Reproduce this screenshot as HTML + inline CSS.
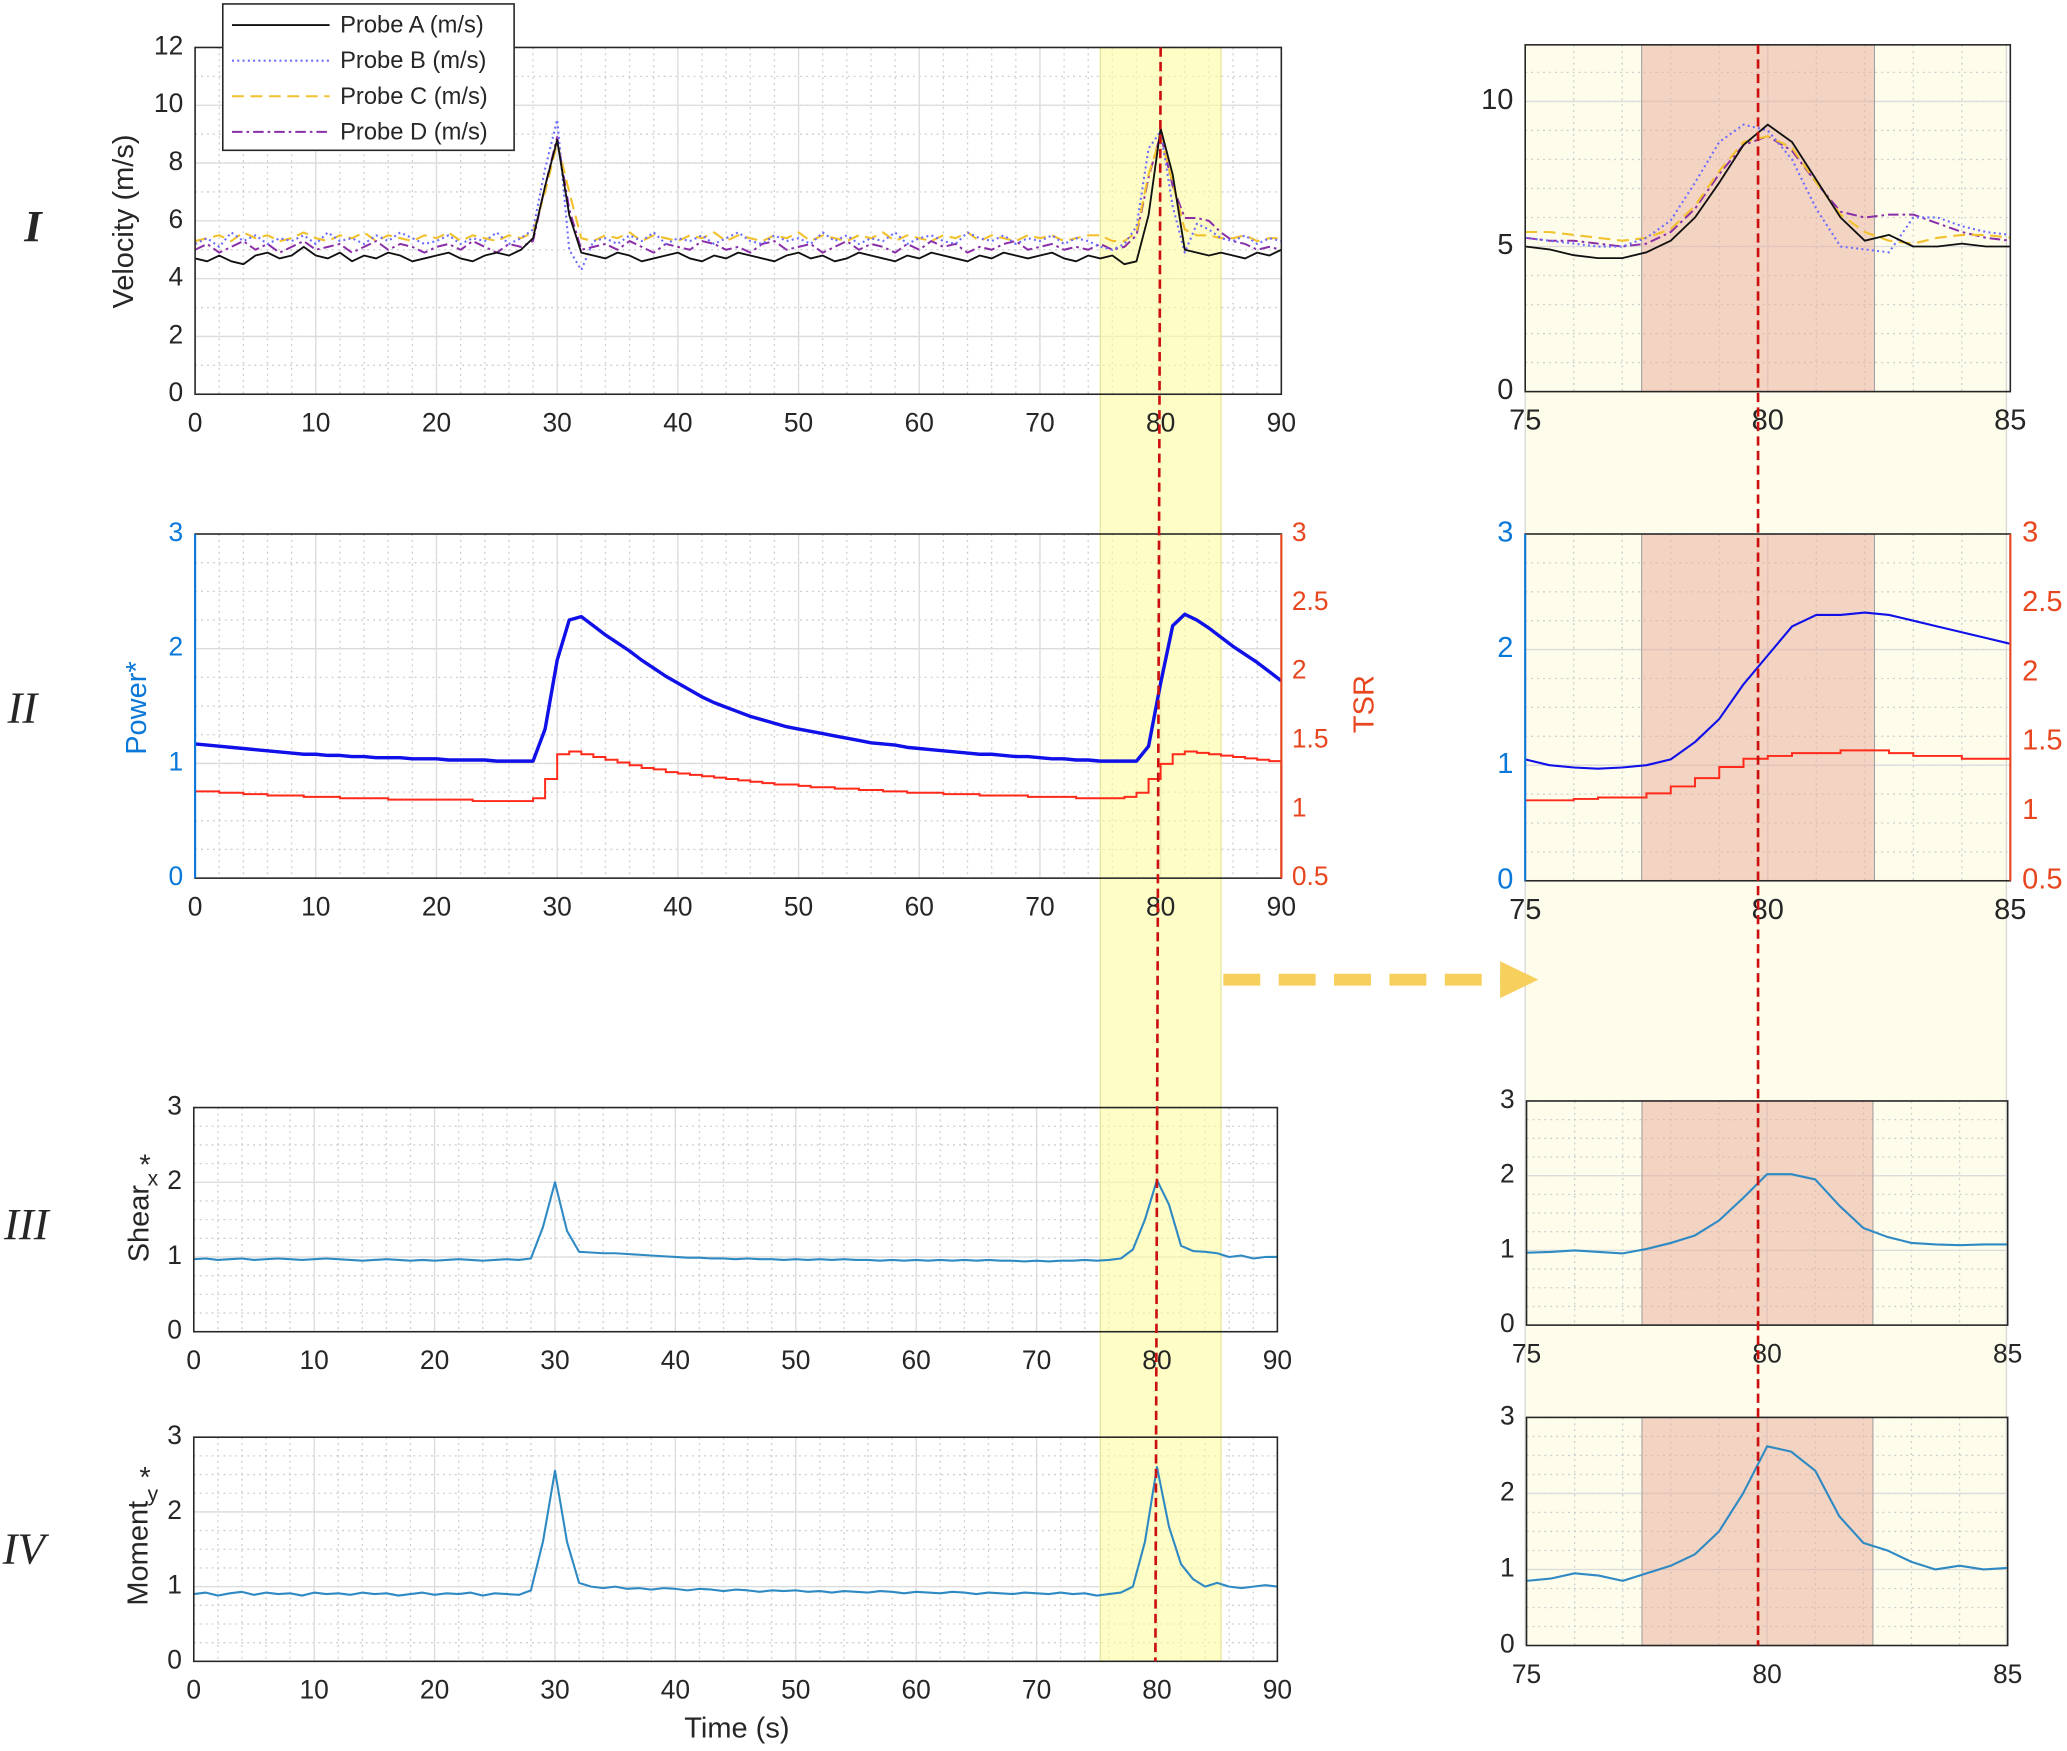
<!DOCTYPE html>
<html><head><meta charset="utf-8"><style>
html,body{margin:0;padding:0;background:#fff}
svg{display:block}
text{font-family:"Liberation Sans",sans-serif}
</style></head><body>
<svg id="chart" xmlns="http://www.w3.org/2000/svg" width="2067" height="1751" viewBox="0 0 1568 1328" preserveAspectRatio="none">
<g id="gBg"></g><g id="gGrid"></g><g id="gBand"></g><g id="gData"></g><g id="gAxes"></g><g id="gTop"></g>
</svg>
<script>
// ---------- data (t = 0..90 s, 1 s step) ----------
const probeA=[4.7,4.6,4.8,4.6,4.5,4.8,4.9,4.7,4.8,5.1,
4.8,4.7,4.9,4.6,4.8,4.7,4.9,4.8,4.6,4.7,
4.8,4.9,4.7,4.6,4.8,4.9,4.8,5.0,5.4,7.2,
8.8,6.2,4.9,4.8,4.7,4.9,4.8,4.6,4.7,4.8,
4.9,4.7,4.6,4.8,4.7,4.9,4.8,4.7,4.6,4.8,
4.9,4.7,4.8,4.6,4.7,4.9,4.8,4.7,4.6,4.8,
4.7,4.9,4.8,4.7,4.6,4.8,4.7,4.9,4.8,4.7,
4.8,4.9,4.7,4.6,4.8,4.7,4.8,4.5,4.6,6.2,
9.2,7.6,5.0,4.9,4.8,4.9,4.8,4.7,4.9,4.8,5.0];
const probeB=[5.2,5.4,5.1,5.6,5.3,5.5,5.2,5.4,5.3,5.5,
5.2,5.6,5.3,5.4,5.2,5.5,5.3,5.6,5.4,5.2,
5.3,5.5,5.2,5.4,5.3,5.6,5.2,5.4,5.7,7.8,
9.5,5.0,4.3,5.3,5.4,5.2,5.5,5.3,5.6,5.2,
5.4,5.3,5.5,5.2,5.4,5.6,5.3,5.2,5.5,5.3,
5.4,5.2,5.6,5.3,5.5,5.2,5.4,5.3,5.6,5.2,
5.4,5.5,5.3,5.2,5.6,5.4,5.3,5.5,5.2,5.4,
5.3,5.5,5.2,5.4,5.3,5.1,5.0,5.2,5.8,8.5,
9.1,6.5,4.9,5.9,5.7,5.4,5.3,5.5,5.2,5.4,5.3];
const probeC=[5.3,5.4,5.5,5.3,5.6,5.4,5.5,5.3,5.4,5.6,
5.4,5.3,5.5,5.4,5.6,5.3,5.5,5.4,5.3,5.5,
5.4,5.6,5.3,5.5,5.4,5.3,5.5,5.4,5.6,7.0,
8.7,7.0,5.4,5.3,5.5,5.4,5.6,5.3,5.5,5.4,
5.3,5.5,5.4,5.6,5.3,5.5,5.4,5.3,5.5,5.4,
5.6,5.3,5.5,5.4,5.3,5.5,5.4,5.6,5.3,5.5,
5.4,5.3,5.5,5.4,5.6,5.3,5.5,5.4,5.3,5.5,
5.4,5.5,5.3,5.4,5.5,5.5,5.3,5.3,5.6,7.6,
8.9,7.3,5.7,5.5,5.5,5.4,5.4,5.5,5.3,5.4,5.4];
const probeD=[5.0,5.2,4.9,5.1,5.3,5.0,5.2,4.9,5.1,5.3,
5.0,5.1,5.2,4.9,5.1,5.3,5.0,5.2,5.1,4.9,
5.1,5.2,5.0,5.3,5.1,4.9,5.2,5.1,5.3,7.2,
8.9,6.4,5.0,5.1,5.2,5.0,5.3,5.1,4.9,5.2,
5.1,5.0,5.3,5.2,5.0,5.1,4.9,5.2,5.3,5.0,
5.1,5.2,4.9,5.1,5.3,5.0,5.2,5.1,4.9,5.2,
5.0,5.3,5.1,5.2,4.9,5.1,5.0,5.2,5.3,5.0,
5.1,5.2,5.0,5.1,5.0,5.2,5.0,5.1,5.5,7.5,
9.0,7.2,6.1,6.1,6.0,5.6,5.3,5.2,5.0,5.1,5.0];
const power=[1.17,1.16,1.15,1.14,1.13,1.12,1.11,1.10,1.09,1.08,
1.08,1.07,1.07,1.06,1.06,1.05,1.05,1.05,1.04,1.04,
1.04,1.03,1.03,1.03,1.03,1.02,1.02,1.02,1.02,1.30,
1.90,2.25,2.28,2.20,2.12,2.05,1.98,1.90,1.83,1.76,
1.70,1.64,1.58,1.53,1.49,1.45,1.41,1.38,1.35,1.32,
1.30,1.28,1.26,1.24,1.22,1.20,1.18,1.17,1.16,1.14,
1.13,1.12,1.11,1.10,1.09,1.08,1.08,1.07,1.06,1.06,
1.05,1.04,1.04,1.03,1.03,1.02,1.02,1.02,1.02,1.15,
1.70,2.20,2.30,2.25,2.18,2.10,2.02,1.95,1.88,1.80,1.72];
const tsr=[1.13,1.13,1.12,1.12,1.11,1.11,1.10,1.10,1.10,1.09,
1.09,1.09,1.08,1.08,1.08,1.08,1.07,1.07,1.07,1.07,
1.07,1.07,1.07,1.06,1.06,1.06,1.06,1.06,1.08,1.22,
1.40,1.42,1.40,1.38,1.36,1.34,1.32,1.30,1.29,1.27,
1.26,1.25,1.24,1.23,1.22,1.21,1.20,1.19,1.18,1.18,
1.17,1.16,1.16,1.15,1.15,1.14,1.14,1.13,1.13,1.12,
1.12,1.12,1.11,1.11,1.11,1.10,1.10,1.10,1.10,1.09,
1.09,1.09,1.09,1.08,1.08,1.08,1.08,1.09,1.12,1.22,
1.33,1.40,1.42,1.41,1.40,1.39,1.38,1.37,1.36,1.35,1.33];
const tsrEnd=0.5;
const shear=[0.97,0.98,0.96,0.97,0.98,0.96,0.97,0.98,0.97,0.96,
0.97,0.98,0.97,0.96,0.95,0.96,0.97,0.96,0.95,0.96,
0.95,0.96,0.97,0.96,0.95,0.96,0.97,0.96,0.98,1.40,
2.00,1.35,1.07,1.06,1.05,1.05,1.04,1.03,1.02,1.01,
1.00,0.99,0.99,0.98,0.98,0.97,0.98,0.97,0.97,0.96,
0.97,0.96,0.97,0.96,0.97,0.96,0.96,0.95,0.96,0.95,
0.96,0.95,0.96,0.95,0.96,0.95,0.96,0.95,0.95,0.94,
0.95,0.94,0.95,0.95,0.96,0.95,0.96,0.98,1.10,1.50,
2.03,1.70,1.15,1.08,1.07,1.05,1.00,1.02,0.98,1.00,1.00];
const moment=[0.90,0.92,0.88,0.91,0.93,0.89,0.92,0.90,0.91,0.88,
0.92,0.90,0.91,0.89,0.92,0.90,0.91,0.88,0.90,0.92,
0.89,0.91,0.90,0.92,0.88,0.91,0.90,0.89,0.95,1.60,
2.55,1.60,1.05,1.00,0.98,1.00,0.97,0.98,0.96,0.98,
0.97,0.95,0.97,0.96,0.94,0.96,0.95,0.93,0.95,0.94,
0.95,0.93,0.94,0.92,0.94,0.93,0.92,0.94,0.93,0.91,
0.93,0.92,0.91,0.93,0.92,0.90,0.92,0.91,0.90,0.92,
0.91,0.90,0.92,0.90,0.91,0.88,0.90,0.92,1.00,1.60,
2.60,1.80,1.30,1.10,1.00,1.05,1.00,0.98,1.00,1.02,1.00];
// zoom window (t = 75..85 s, 0.5 s step)
const zA=[5.0,4.9,4.7,4.6,4.6,4.8,5.2,6.0,7.2,8.5,9.2,8.6,7.3,6.0,5.2,5.4,5.0,5.0,5.1,5.0,5.0];
const zB=[5.3,5.2,5.1,5.0,5.0,5.3,5.9,7.2,8.6,9.2,9.0,8.0,6.3,5.0,4.9,4.8,6.0,6.0,5.7,5.5,5.4];
const zC=[5.5,5.5,5.4,5.3,5.2,5.3,5.6,6.4,7.6,8.6,8.8,8.4,7.2,6.1,5.5,5.2,5.1,5.3,5.4,5.4,5.3];
const zD=[5.3,5.2,5.2,5.1,5.0,5.1,5.5,6.3,7.5,8.5,8.8,8.3,7.2,6.2,6.0,6.1,6.1,5.8,5.5,5.3,5.2];
const zPower=[1.05,1.0,0.98,0.97,0.98,1.0,1.05,1.2,1.4,1.7,1.95,2.2,2.3,2.3,2.32,2.3,2.25,2.2,2.15,2.1,2.05];
const zTsr=[1.08,1.08,1.09,1.1,1.1,1.13,1.18,1.24,1.32,1.38,1.4,1.42,1.42,1.44,1.44,1.42,1.4,1.4,1.38,1.38,1.38];
const zShear=[0.97,0.98,1.0,0.98,0.96,1.02,1.1,1.2,1.4,1.7,2.02,2.02,1.95,1.6,1.3,1.18,1.1,1.08,1.07,1.08,1.08];
const zMoment=[0.85,0.88,0.95,0.92,0.85,0.95,1.05,1.2,1.5,2.0,2.62,2.55,2.3,1.7,1.35,1.25,1.1,1.0,1.05,1.0,1.02];
const mainTicks=[0,10,20,30,40,50,60,70,80,90];
const zoomTicks=[75,80,85];
const velTicks=[0,2,4,6,8,10,12];
const zVelTicks=[0,5,10];
const unitTicks=[0,1,2,3];
const tsrTicks=[0.5,1,1.5,2,2.5,3];
const bandRange=[75,85];
const redRange=[77.4,82.2];
const eventT=80, zoomEventT=79.8;

const NS="http://www.w3.org/2000/svg";
function mk(parent,tag,attrs,name,inter){
  const el=document.createElementNS(NS,tag);
  for(const k in attrs) el.setAttribute(k,attrs[k]);
  
  
  document.getElementById(parent).appendChild(el);
  return el;
}
function txt(parent,x,y,s,name,opt){
  opt=opt||{};
  const t=mk(parent,'text',{x:x,y:y,'font-size':opt.size||20,fill:opt.fill||'#262626','text-anchor':opt.anchor||'middle','dominant-baseline':'middle'},name);
  if(opt.rot) t.setAttribute('transform','rotate(-90 '+x+' '+y+')');
  if(opt.style) t.setAttribute('style',opt.style);
  t.textContent=s;return t;
}
function scale(d,r){return v=>r[0]+(v-d[0])/(d[1]-d[0])*(r[1]-r[0]);}
function panel(p){
  const sx=scale(p.xd,[p.x0,p.x1]), sy=scale(p.yd,[p.y1,p.y0]);
  if(p.bg) mk('gBg','rect',{x:p.x0,y:p.y0,width:p.x1-p.x0,height:p.y1-p.y0,fill:p.bg},p.id+'-background');
  for(let v=p.xd[0];v<=p.xd[1]+1e-9;v+=p.xminor){const x=sx(v);mk('gGrid','line',{x1:x,x2:x,y1:p.y0,y2:p.y1,stroke:'#cfcfcf','stroke-width':1,'stroke-dasharray':'1.5 3'},p.id+'-minor-grid-x');}
  for(let v=p.yd[0];v<=p.yd[1]+1e-9;v+=p.yminor){const y=sy(v);mk('gGrid','line',{x1:p.x0,x2:p.x1,y1:y,y2:y,stroke:'#cfcfcf','stroke-width':1,'stroke-dasharray':'1.5 3'},p.id+'-minor-grid-y');}
  p.xt.forEach(v=>{const x=sx(v);mk('gGrid','line',{x1:x,x2:x,y1:p.y0,y2:p.y1,stroke:'#dcdcdc','stroke-width':1},p.id+'-grid-x');
    txt('gAxes',x,p.y1+23,String(v),p.id+'-x-tick-label',{size:p.fs||20});});
  p.yt.forEach(v=>{const y=sy(v);if(v>p.yd[0]&&v<p.yd[1]) mk('gGrid','line',{x1:p.x0,x2:p.x1,y1:y,y2:y,stroke:'#dcdcdc','stroke-width':1},p.id+'-grid-y');
    if(y>=p.y0-1) txt('gAxes',p.x0-9,y,String(v),p.id+'-y-tick-label',{size:p.fs||20,anchor:'end',fill:p.ycol||'#262626'});});
  mk('gAxes','rect',{x:p.x0,y:p.y0,width:p.x1-p.x0,height:p.y1-p.y0,fill:'none',stroke:'#262626','stroke-width':1.2},p.id+'-frame');
  if(p.ycol) mk('gAxes','line',{x1:p.x0,x2:p.x0,y1:p.y0,y2:p.y1,stroke:p.ycol,'stroke-width':1.6},p.id+'-left-axis');
  return {sx,sy};
}
function line(ax,t0,dt,arr,name,style){
  let d='';arr.forEach((v,i)=>{d+=(i?'L':'M')+ax.sx(t0+i*dt).toFixed(2)+' '+ax.sy(v).toFixed(2);});
  const a={d:d,fill:'none','stroke-linejoin':'round'};for(const k in style)a[k]=style[k];
  return mk('gData','path',a,name);
}
function stepLine(ax,t0,dt,arr,name,style,end){
  let d='';arr.forEach((v,i)=>{const x=ax.sx(t0+i*dt),y=ax.sy(v);d+=(i?'H'+x.toFixed(2)+'V':'M'+x.toFixed(2)+' ')+y.toFixed(2);});
  if(end!==undefined) d+='V'+ax.sy(end).toFixed(2);
  const a={d:d,fill:'none'};for(const k in style)a[k]=style[k];
  return mk('gData','path',a,name);
}
const sA={stroke:'#111','stroke-width':1.4}, sB={stroke:'#6b6bff','stroke-width':1.6,'stroke-dasharray':'1.5 2.5'},
 sC={stroke:'#f2c12e','stroke-width':1.6,'stroke-dasharray':'9 5'}, sD={stroke:'#8a2ea8','stroke-width':1.5,'stroke-dasharray':'8 3 2 3'};
const sPow={stroke:'#1010e8','stroke-width':2.6}, sTsr={stroke:'#ff2a1a','stroke-width':1.5}, sSh={stroke:'#2f8ac4','stroke-width':1.6};

// right column background
mk('gBg','rect',{x:1157,y:34,width:366,height:1214,fill:'#fefdeb'},'zoom-column-background');
mk('gBg','line',{x1:1157,x2:1157,y1:34,y2:1248,stroke:'#d8d8d8'},'zoom-column-edge-left');
mk('gBg','line',{x1:1522,x2:1522,y1:34,y2:1248,stroke:'#d8d8d8'},'zoom-column-edge-right');

// ---- left panels ----
const L1=panel({id:'velocity',x0:148,x1:972,y0:36,y1:299,xd:[0,90],yd:[0,12],xt:mainTicks,yt:velTicks,xminor:2,yminor:1,bg:'#fff'});
const L2=panel({id:'power',x0:148,x1:972,y0:405,y1:666,xd:[0,90],yd:[0,3],xt:mainTicks,yt:unitTicks,xminor:2,yminor:0.25,bg:'#fff',ycol:'#0a78d8'});
const L2r={sx:L2.sx,sy:scale([0.5,3],[666,405])};
const L3=panel({id:'shear',x0:147,x1:969,y0:840,y1:1010,xd:[0,90],yd:[0,3],xt:mainTicks,yt:unitTicks,xminor:2,yminor:0.25,bg:'#fff'});
const L4=panel({id:'moment',x0:147,x1:969,y0:1090,y1:1260,xd:[0,90],yd:[0,3],xt:mainTicks,yt:unitTicks,xminor:2,yminor:0.25,bg:'#fff'});
// TSR right axis
mk('gAxes','line',{x1:972,x2:972,y1:405,y2:666,stroke:'#e8461e','stroke-width':1.6},'tsr-right-axis');
tsrTicks.forEach(v=>txt('gAxes',980,L2r.sy(v),String(v),'tsr-y-tick-label',{anchor:'start',fill:'#e8461e'}));

// ---- right panels ----
const R1=panel({id:'zoom-velocity',x0:1157,x1:1525,y0:34,y1:297,xd:[75,85],yd:[0,11.95],xt:zoomTicks,yt:zVelTicks,xminor:1,yminor:1,fs:22});
const R2=panel({id:'zoom-power',x0:1157,x1:1525,y0:405,y1:668,xd:[75,85],yd:[0,3],xt:zoomTicks,yt:unitTicks,xminor:1,yminor:0.25,fs:22,ycol:'#0a78d8'});
const R2r={sx:R2.sx,sy:scale([0.5,3],[668,405])};
mk('gAxes','line',{x1:1525,x2:1525,y1:405,y2:668,stroke:'#e8461e','stroke-width':1.6},'zoom-tsr-right-axis');
tsrTicks.forEach(v=>txt('gAxes',1534,R2r.sy(v),String(v),'zoom-tsr-y-tick-label',{anchor:'start',fill:'#e8461e',size:22}));
const R3=panel({id:'zoom-shear',x0:1158,x1:1523,y0:835,y1:1005,xd:[75,85],yd:[0,3],xt:zoomTicks,yt:unitTicks,xminor:1,yminor:0.25});
const R4=panel({id:'zoom-moment',x0:1158,x1:1523,y0:1075,y1:1248,xd:[75,85],yd:[0,3],xt:zoomTicks,yt:unitTicks,xminor:1,yminor:0.25});

// bands
mk('gBand','rect',{x:L1.sx(bandRange[0]),y:36,width:L1.sx(bandRange[1])-L1.sx(bandRange[0]),height:1224,fill:'#fbfb9e','fill-opacity':0.6,stroke:'#e6e6a0'},'highlight-band');
[[R1,34,297],[R2,405,668],[R3,835,1005],[R4,1075,1248]].forEach((r,i)=>{
  mk('gBand','rect',{x:r[0].sx(redRange[0]),y:r[1],width:r[0].sx(redRange[1])-r[0].sx(redRange[0]),height:r[2]-r[1],fill:'#eab0a0','fill-opacity':0.55,stroke:'#a0a0a0','stroke-width':0.8},'zoom-event-band-'+(i+1));
});

// series
line(L1,0,1,probeD,'probe-d-line',sD);line(L1,0,1,probeC,'probe-c-line',sC);line(L1,0,1,probeB,'probe-b-line',sB);line(L1,0,1,probeA,'probe-a-line',sA);
line(L2,0,1,power,'power-line',sPow);
stepLine(L2r,0,1,tsr,'tsr-line',sTsr,tsrEnd);
line(L3,0,1,shear,'shear-line',sSh);
line(L4,0,1,moment,'moment-line',sSh);
line(R1,75,0.5,zD,'zoom-probe-d-line',sD);line(R1,75,0.5,zC,'zoom-probe-c-line',sC);line(R1,75,0.5,zB,'zoom-probe-b-line',sB);line(R1,75,0.5,zA,'zoom-probe-a-line',sA);
line(R2,75,0.5,zPower,'zoom-power-line',{stroke:'#1010e8','stroke-width':1.6});
stepLine(R2r,75,0.5,zTsr,'zoom-tsr-line',sTsr);
line(R3,75,0.5,zShear,'zoom-shear-line',sSh);
line(R4,75,0.5,zMoment,'zoom-moment-line',sSh);

// event lines
mk('gTop','line',{x1:L1.sx(eventT),x2:L1.sx(eventT)-4,y1:36,y2:1260,stroke:'#cc1010','stroke-width':2,'stroke-dasharray':'7 4'},'event-line');
mk('gTop','line',{x1:R1.sx(zoomEventT),x2:R1.sx(zoomEventT),y1:34,y2:1248,stroke:'#cc1010','stroke-width':2,'stroke-dasharray':'7 4'},'zoom-event-line');

// arrow
mk('gTop','line',{x1:928,x2:1140,y1:743,y2:743,stroke:'#f7cf5c','stroke-width':9,'stroke-dasharray':'28 14'},'zoom-arrow-shaft');
mk('gTop','polygon',{points:'1138,729 1167,743 1138,757',fill:'#f7cf5c'},'zoom-arrow-head');

// axis titles
txt('gAxes',95,168,'Velocity (m/s)','velocity-y-axis-title',{rot:1,size:22});
txt('gAxes',105,537,'Power*','power-y-axis-title',{rot:1,size:22,fill:'#0a78d8'});
txt('gAxes',1036,534,'TSR','tsr-y-axis-title',{rot:1,size:22,fill:'#e8461e'});
txt('gAxes',107,928,'Shear','shear-y-axis-title',{rot:1,size:22});
txt('gAxes',110,885,'*','shear-star',{size:22});
txt('gAxes',116,895,'x','shear-subscript',{size:16});
txt('gAxes',106,1178,'Moment','moment-y-axis-title',{rot:1,size:22});
txt('gAxes',110,1122,'*','moment-star',{size:22});
txt('gAxes',116,1134,'y','moment-subscript',{size:16});
txt('gAxes',559,1312,'Time (s)','x-axis-title',{size:22});
// roman numerals
[['I',25,175,'bold'],['II',17,540,'normal'],['III',20,932,'normal'],['IV',18,1178,'normal']].forEach(r=>{
  const t=txt('gAxes',r[1],r[2],r[0],'row-label-'+r[0].toLowerCase(),{size:34,style:'font-family:"Liberation Serif",serif;font-style:italic;font-weight:'+r[3]});
});

// legend
mk('gTop','rect',{x:169,y:3,width:221,height:111,fill:'#fff',stroke:'#262626','stroke-width':1.2},'legend-box');
[['Probe A (m/s)',sA],['Probe B (m/s)',sB],['Probe C (m/s)',sC],['Probe D (m/s)',sD]].forEach((e,i)=>{
  const y=19+i*27;const a={x1:176,x2:250,y1:y,y2:y};for(const k in e[1])a[k]=e[1][k];
  mk('gTop','line',a,'legend-swatch-'+(i+1));
  txt('gTop',258,y+1,e[0],'legend-entry-'+(i+1),{anchor:'start',size:18});
});
</script>
</body></html>
